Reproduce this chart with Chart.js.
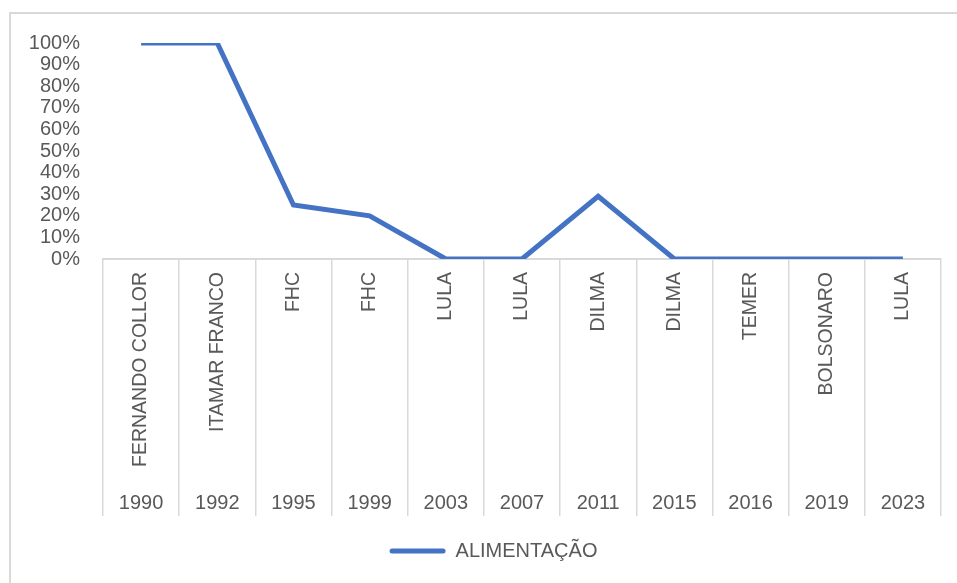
<!DOCTYPE html>
<html>
<head>
<meta charset="utf-8">
<script src="https://cdn.jsdelivr.net/npm/chart.js@4"></script>
<style>
  html, body { margin: 0; padding: 0; background: #fff; overflow: hidden; }
  #wrap { position: relative; width: 957px; height: 583px; }
  #frame { position: absolute; left: 9px; top: 12px; width: 1000px; height: 1000px; border: 2px solid #d9d9d9; box-sizing: border-box; }
  #grafica { position: absolute; left: 0; top: 0; }
</style>
</head>
<body>
<div id="wrap">
  <div id="frame"></div>
  <canvas id="grafica" width="957" height="583"></canvas>
</div>
<script>
// dados do gráfico
let presidentes = ["FERNANDO COLLOR", "ITAMAR FRANCO", "FHC", "FHC", "LULA", "LULA", "DILMA", "DILMA", "TEMER", "BOLSONARO", "LULA"];
let anos = ["1990", "1992", "1995", "1999", "2003", "2007", "2011", "2015", "2016", "2019", "2023"];
let alimentacao = [1, 1, 0.25, 0.2, 0, 0, 0.29, 0, 0, 0, 0];

let corLinha = "#4472C4";
let corTexto = "#595959";
let corGrade = "#d9d9d9";
let fonte = "'Liberation Sans', Arial, sans-serif";

// a legenda do Excel fica centrada no quadro todo, não só na área útil
const moverLegenda = {
  id: "moverLegenda",
  afterLayout(chart) {
    chart.legend.left += 23;
    chart.legend.right += 23;
  },
};

new Chart("grafica", {
  type: "line",
  data: {
    labels: presidentes,
    datasets: [
      {
        label: "ALIMENTAÇÃO",
        data: alimentacao,
        borderColor: corLinha,
        backgroundColor: corLinha,
        borderWidth: 5,
        pointRadius: 0,
        tension: 0,
        fill: false,
      },
    ],
  },
  plugins: [moverLegenda],
  options: {
    responsive: false,
    animation: false,
    layout: { padding: { top: 43, right: 16, left: 0, bottom: 12 } },
    plugins: {
      tooltip: { enabled: false },
      legend: {
        position: "bottom",
        labels: {
          color: corTexto,
          font: { family: fonte, size: 20 },
          boxWidth: 56,
          boxHeight: 5,
          useBorderRadius: true,
          borderRadius: 2.5,
          padding: 22,
          generateLabels: function (chart) {
            return Chart.defaults.plugins.legend.labels.generateLabels(chart).map(function (l) {
              l.lineWidth = 0;
              return l;
            });
          },
        },
      },
    },
    scales: {
      x: {
        type: "category",
        offset: true,
        grid: {
          offset: true,
          drawOnChartArea: false,
          drawTicks: true,
          tickLength: 211,
          color: corGrade,
          lineWidth: 1.5,
        },
        border: { display: true, color: corGrade, width: 2 },
        ticks: {
          autoSkip: false,
          minRotation: 90,
          maxRotation: 90,
          padding: -198,
          color: corTexto,
          font: { family: fonte, size: 19.5 },
        },
        afterFit: function (scale) {
          scale.height = 211;
        },
      },
      x2: {
        type: "category",
        labels: anos,
        position: "bottom",
        weight: 1,
        offset: true,
        grid: {
          offset: true,
          drawOnChartArea: false,
          drawTicks: true,
          tickLength: 46,
          color: corGrade,
          lineWidth: 1.5,
        },
        border: { display: false },
        ticks: {
          autoSkip: false,
          maxRotation: 0,
          padding: -25,
          color: corTexto,
          font: { family: fonte, size: 20 },
        },
        afterFit: function (scale) {
          scale.height = 49;
        },
      },
      y: {
        min: 0,
        max: 1,
        grid: { display: false, drawTicks: false },
        border: { display: false },
        ticks: {
          stepSize: 0.1,
          autoSkip: false,
          padding: 23,
          color: corTexto,
          font: { family: fonte, size: 20, lineHeight: 1 },
          callback: function (v) {
            return Math.round(v * 100) + "%";
          },
        },
        afterFit: function (scale) {
          scale.width = 103;
        },
      },
    },
  },
});
</script>
</body>
</html>
